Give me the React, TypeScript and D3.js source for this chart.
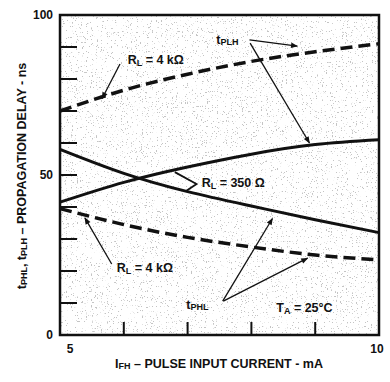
import React, { useEffect, useRef } from "react";
import * as d3 from "d3";

// pulse input current, mA
const currents = [5, 6, 7, 8, 9, 10];
// propagation delay, ns
const tplh4k = [70, 76.5, 81.5, 85.5, 88.5, 91];
const tplh350 = [41.5, 47.7, 52.5, 56.5, 59.5, 61];
const tphl350 = [58, 50.5, 44.8, 40.3, 36, 32];
const tphl4k = [39.5, 34.5, 30.5, 27.5, 25, 23.5];

const yTickLabels = [0, 50, 100];
const xTickLabels = [5, 10];

export default function App() {
  const ref = useRef<SVGSVGElement>(null);

  useEffect(() => {
    if (!ref.current) return;
    const svg = d3.select(ref.current);
    svg.selectAll("*").remove();

    const left = 60, right = 379, top = 15, bottom = 335;
    const x = d3.scaleLinear().domain([5, 10]).range([left, right]);
    const y = d3.scaleLinear().domain([0, 100]).range([bottom, top]);
    const font = "'Liberation Sans', Arial, sans-serif";
    const fs = 12.5;

    const defs = svg.append("defs");
    const f = defs.append("filter").attr("id", "stipple").attr("x", 0).attr("y", 0).attr("width", 1).attr("height", 1);
    f.append("feTurbulence").attr("type", "fractalNoise").attr("baseFrequency", 0.8).attr("numOctaves", 2).attr("seed", 3);
    f.append("feColorMatrix").attr("type", "matrix")
      .attr("values", "0 0 0 0 0.55  0 0 0 0 0.55  0 0 0 0 0.55  -16 0 0 0 5.5");
    defs.append("marker").attr("id", "arr").attr("viewBox", "0 0 10 10").attr("refX", 9).attr("refY", 5)
      .attr("markerWidth", 9).attr("markerHeight", 7).attr("markerUnits", "userSpaceOnUse").attr("orient", "auto")
      .append("path").attr("d", "M0,1 L10,5 L0,9 Z").attr("fill", "#111");

    svg.append("rect").attr("x", 0).attr("y", 0).attr("width", 390).attr("height", 382).attr("fill", "#fff");
    svg.append("rect").attr("x", left).attr("y", top).attr("width", right - left).attr("height", bottom - top)
      .attr("fill", "#fff").attr("filter", "url(#stipple)");

    // inside ticks
    const g = svg.append("g").attr("stroke", "#111").attr("stroke-width", 2);
    d3.range(10, 100, 10).forEach((v) => {
      g.append("line").attr("x1", left).attr("x2", left + 17).attr("y1", y(v)).attr("y2", y(v));
    });
    [6, 7, 8, 9].forEach((v) => {
      g.append("line").attr("x1", x(v)).attr("x2", x(v)).attr("y1", bottom).attr("y2", bottom - 13);
    });

    const line = d3.line<number>().x((d, i) => x(currents[i])).y((d) => y(d)).curve(d3.curveNatural);
    const curves: [number[], boolean][] = [[tplh4k, true], [tplh350, false], [tphl350, false], [tphl4k, true]];
    curves.forEach(([data, dashed]) => {
      svg.append("path").datum(data).attr("d", line).attr("fill", "none").attr("stroke", "#111")
        .attr("stroke-width", dashed ? 3.5 : 3)
        .attr("stroke-dasharray", dashed ? "12,6" : null);
    });

    svg.append("rect").attr("x", left).attr("y", top).attr("width", right - left).attr("height", bottom - top)
      .attr("fill", "none").attr("stroke", "#111").attr("stroke-width", 2.5);

    // annotation arrows (data coords)
    const arrows: [number, number, number, number][] = [
      [5.94, 84.7, 5.66, 73.9],
      [7.97, 92.2, 8.72, 90.3],
      [7.98, 91.2, 8.91, 60],
      [5.81, 22.2, 5.39, 36.6],
      [7.55, 10.6, 8.33, 36.4],
      [7.56, 10.6, 8.88, 24.0],
    ];
    arrows.forEach(([x1, y1, x2, y2]) => {
      svg.append("line").attr("x1", x(x1)).attr("y1", y(y1)).attr("x2", x(x2)).attr("y2", y(y2))
        .attr("stroke", "#111").attr("stroke-width", 1.3).attr("marker-end", "url(#arr)");
    });
    svg.append("path")
      .attr("d", d3.line()([[x(6.8), y(50.9)], [x(7.14), y(47.2)], [x(6.97), y(44.9)]]))
      .attr("fill", "none").attr("stroke", "#111").attr("stroke-width", 1.8);

    const txt = (px: number, py: number, anchor = "start", size = fs) =>
      svg.append("text").attr("x", px).attr("y", py).attr("text-anchor", anchor)
        .attr("dominant-baseline", "central").attr("font-family", font).attr("font-weight", "bold")
        .attr("font-size", size).attr("fill", "#111");

    const rl = (px: number, py: number, val: string) => {
      const t = txt(px, py);
      t.append("tspan").text("R");
      t.append("tspan").attr("font-size", 9).attr("dy", 3).text("L");
      t.append("tspan").attr("dy", -3).text(` = ${val}`);
    };
    rl(x(6.06), y(85.9), "4 kΩ");
    rl(x(7.22), y(47.5), "350 Ω");
    rl(x(5.89), y(20.9), "4 kΩ");

    const tsub = (px: number, py: number, sub: string) => {
      const t = txt(px, py);
      t.append("tspan").text("t");
      t.append("tspan").attr("font-size", 9).attr("dy", 2).text(sub);
    };
    tsub(x(7.45), y(92.2), "PLH");
    tsub(x(6.98), y(9.4), "PHL");

    const ta = txt(x(8.39), y(8.4));
    ta.append("tspan").text("T");
    ta.append("tspan").attr("font-size", 9).attr("dy", 3).text("A");
    ta.append("tspan").attr("dy", -3).text(" = 25°C");

    yTickLabels.forEach((v) => txt(53, y(v), "end", 12).text(String(v)));
    xTickLabels.forEach((v, i) => txt(i === 0 ? 70 : 377, 349, "middle", 12).text(String(v)));

    const xt = txt(219, 364, "middle");
    xt.append("tspan").text("I");
    xt.append("tspan").attr("font-size", 9).attr("dy", 2).text("FH");
    xt.append("tspan").attr("dy", -2).text(" – PULSE INPUT CURRENT - mA");

    const yt = svg.append("text").attr("transform", "translate(22,176) rotate(-90)").attr("text-anchor", "middle")
      .attr("dominant-baseline", "central").attr("font-family", font).attr("font-weight", "bold")
      .attr("font-size", fs).attr("fill", "#111");
    yt.append("tspan").text("t");
    yt.append("tspan").attr("font-size", 9).attr("dy", 2).text("PHL");
    yt.append("tspan").attr("dy", -2).text(", t");
    yt.append("tspan").attr("font-size", 9).attr("dy", 2).text("PLH");
    yt.append("tspan").attr("dy", -2).text(" – PROPAGATION DELAY - ns");
  }, []);

  return (
    <svg ref={ref} width={390} height={382} style={{ position: "absolute", left: 0, top: 0 }} />
  );
}
